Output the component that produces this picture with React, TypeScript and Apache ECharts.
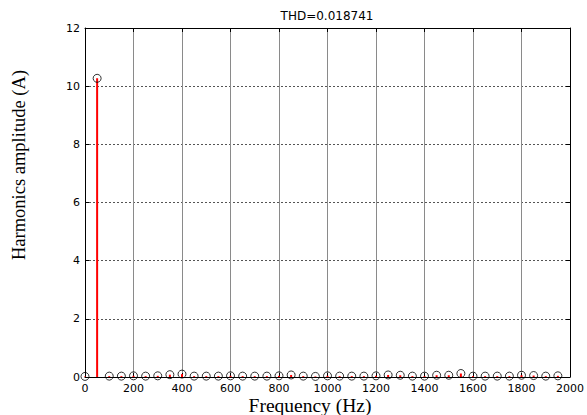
import React, { useEffect, useRef } from "react";
import * as echarts from "echarts";

// Harmonic frequencies (Hz), every 50 Hz from DC up to 1950 Hz
const frequencies: number[] = [
  0, 50, 100, 150, 200, 250, 300, 350, 400, 450,
  500, 550, 600, 650, 700, 750, 800, 850, 900, 950,
  1000, 1050, 1100, 1150, 1200, 1250, 1300, 1350, 1400, 1450,
  1500, 1550, 1600, 1650, 1700, 1750, 1800, 1850, 1900, 1950,
];

// Harmonic amplitudes (A)
const amplitudes: number[] = [
  0.02, 10.27, 0.03, 0.03, 0.04, 0.03, 0.04, 0.08, 0.1, 0.03,
  0.03, 0.03, 0.04, 0.03, 0.03, 0.03, 0.04, 0.07, 0.03, 0.02,
  0.04, 0.03, 0.03, 0.03, 0.04, 0.07, 0.06, 0.03, 0.03, 0.06,
  0.06, 0.12, 0.03, 0.03, 0.03, 0.03, 0.06, 0.05, 0.03, 0.04,
];

const xTicks = { min: 0, max: 2000, interval: 200 };
const yTicks = { min: 0, max: 12, interval: 2 };

const titleText = "THD=0.018741";
const xName = "Frequency (Hz)";
const yName = "Harmonics amplitude (A)";

const serif = "'Liberation Serif', 'Times New Roman', Times, serif";

export default function App() {
  const ref = useRef<HTMLDivElement>(null);

  useEffect(() => {
    if (!ref.current) return;
    const chart = echarts.init(ref.current, undefined, { renderer: "svg" });
    const points = frequencies.map((f, i) => [f, amplitudes[i]]);
    const tickFont = { fontFamily: "DejaVu Sans", fontSize: 11, color: "#000" };

    chart.setOption({
      animation: false,
      backgroundColor: "#fff",
      grid: { left: 85, right: 14, top: 28, bottom: 38, containLabel: false },
      xAxis: [
        {
          type: "value",
          ...xTicks,
          axisLine: { show: true, onZero: false, lineStyle: { color: "#000", width: 1 } },
          axisTick: { show: true, inside: true, length: 4, lineStyle: { color: "#000" } },
          axisLabel: { ...tickFont, margin: 6, formatter: (v: number) => String(v) },
          splitLine: { show: true, lineStyle: { color: "#8a8a8a", width: 1, type: "solid" } },
        },
        {
          type: "value",
          position: "top",
          ...xTicks,
          axisLine: { show: true, onZero: false, lineStyle: { color: "#000", width: 1 } },
          axisTick: { show: true, inside: true, length: 4, lineStyle: { color: "#000" } },
          axisLabel: { show: false },
          splitLine: { show: false },
        },
      ],
      yAxis: [
        {
          type: "value",
          ...yTicks,
          axisLine: { show: true, onZero: false, lineStyle: { color: "#000", width: 1 } },
          axisTick: { show: true, inside: true, length: 4, lineStyle: { color: "#000" } },
          axisLabel: { ...tickFont, margin: 5, formatter: (v: number) => String(v) },
          splitLine: { show: true, lineStyle: { color: "#555", width: 1, type: [2, 2] } },
        },
        {
          type: "value",
          position: "right",
          ...yTicks,
          axisLine: { show: true, onZero: false, lineStyle: { color: "#000", width: 1 } },
          axisTick: { show: true, inside: true, length: 4, lineStyle: { color: "#000" } },
          axisLabel: { show: false },
          splitLine: { show: false },
        },
      ],
      series: [
        {
          type: "custom",
          xAxisIndex: 0,
          yAxisIndex: 0,
          data: points,
          z: 2,
          renderItem: (params: any, api: any) => {
            const top = api.coord([api.value(0), api.value(1)]);
            const base = api.coord([api.value(0), 0]);
            return {
              type: "line",
              shape: { x1: top[0], y1: top[1], x2: base[0], y2: base[1] },
              style: { stroke: "#ff0000", lineWidth: 2 },
            };
          },
        },
        {
          type: "scatter",
          xAxisIndex: 0,
          yAxisIndex: 0,
          data: points,
          symbol: "circle",
          symbolSize: 8,
          z: 3,
          itemStyle: { color: "rgba(0,0,0,0)", borderColor: "#000", borderWidth: 1 },
        },
      ],
      graphic: [
        {
          type: "text",
          x: 327,
          y: 16,
          style: {
            text: titleText,
            fontFamily: "DejaVu Sans",
            fontSize: 12,
            fill: "#000",
            align: "center",
            verticalAlign: "middle",
          },
        },
        {
          type: "text",
          x: 310,
          y: 405,
          style: {
            text: xName,
            fontFamily: serif,
            fontSize: 19.5,
            fill: "#000",
            align: "center",
            verticalAlign: "middle",
          },
        },
        {
          type: "text",
          x: 19,
          y: 165,
          rotation: Math.PI / 2,
          style: {
            text: yName,
            fontFamily: serif,
            fontSize: 18.5,
            fill: "#000",
            align: "center",
            verticalAlign: "middle",
          },
        },
      ],
    });

    return () => chart.dispose();
  }, []);

  return <div ref={ref} style={{ width: 587, height: 415, position: "fixed", left: 0, top: 0 }} />;
}
